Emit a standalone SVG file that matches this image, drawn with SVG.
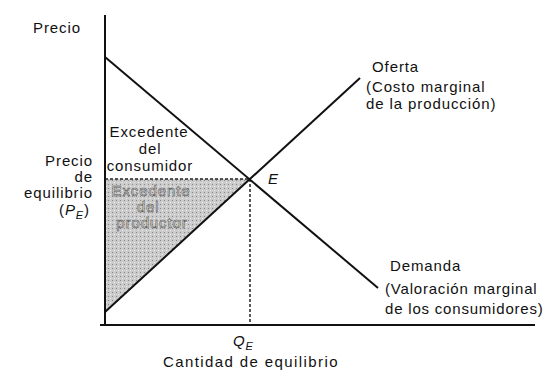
<svg xmlns="http://www.w3.org/2000/svg" width="545" height="374" viewBox="0 0 545 374">
<style>
text{font-family:"Liberation Sans",Arial,sans-serif;font-size:15px;letter-spacing:0.9px;fill:#111}
.ln{stroke:#111;stroke-width:2;fill:none}
.ds{stroke:#222;stroke-width:1.5;stroke-dasharray:3 2;fill:none}
.it{font-style:italic}
.ps{fill:#f2f2f2;stroke:#555;stroke-width:0.6}
</style>
<defs>
<pattern id="dots" width="4" height="4" patternUnits="userSpaceOnUse">
<rect width="4" height="4" fill="#cbcbcb"/>
<rect x="0" y="0" width="1" height="1" fill="#888888"/>
<rect x="2" y="2" width="1" height="1" fill="#eeeeee"/>
</pattern>
</defs>
<g id="producer-surplus">
<polygon points="105,179 250,179 105,313" fill="url(#dots)"/>
<text class="ps" x="151" y="196" text-anchor="middle">Excedente</text>
<text class="ps" x="148" y="212" text-anchor="middle">del</text>
<text class="ps" x="152" y="228" text-anchor="middle">productor</text>
</g>
<g id="axes">
<line class="ln" x1="105" y1="15" x2="105" y2="325"/>
<line class="ln" x1="100" y1="325" x2="535" y2="325"/>
<text x="33" y="33">Precio</text>
<text x="163" y="367" style="letter-spacing:1.4px">Cantidad de equilibrio</text>
</g>
<g id="connectors">
<line class="ds" x1="105" y1="179" x2="250" y2="179"/>
<line class="ds" x1="250" y1="179" x2="250" y2="325"/>
</g>
<g id="demand">
<line class="ln" x1="105" y1="57" x2="378" y2="288"/>
<text x="390" y="271">Demanda</text>
<text x="385" y="294" style="letter-spacing:0.8px">(Valoración marginal</text>
<text x="385" y="314" style="letter-spacing:0.8px">de los consumidores)</text>
</g>
<g id="supply">
<line class="ln" x1="105" y1="312" x2="360" y2="78"/>
<text x="372" y="72">Oferta</text>
<text x="366" y="92">(Costo marginal</text>
<text x="366" y="109">de la producción)</text>
</g>
<g id="equilibrium">
<text class="it" x="268" y="184">E</text>
<text class="it" x="233" y="346">Q<tspan font-size="11" dy="4">E</tspan></text>
</g>
<g id="consumer-surplus">
<text x="149" y="137" text-anchor="middle">Excedente</text>
<text x="150" y="154" text-anchor="middle">del</text>
<text x="150" y="171" text-anchor="middle">consumidor</text>
</g>
<g id="price-label">
<text x="93" y="166" text-anchor="end">Precio</text>
<text x="93" y="182" text-anchor="end">de</text>
<text x="93" y="198" text-anchor="end">equilibrio</text>
<text x="90" y="215" text-anchor="end">(<tspan class="it">P<tspan font-size="11" dy="4">E</tspan></tspan><tspan dy="-4">)</tspan></text>
</g>
</svg>
